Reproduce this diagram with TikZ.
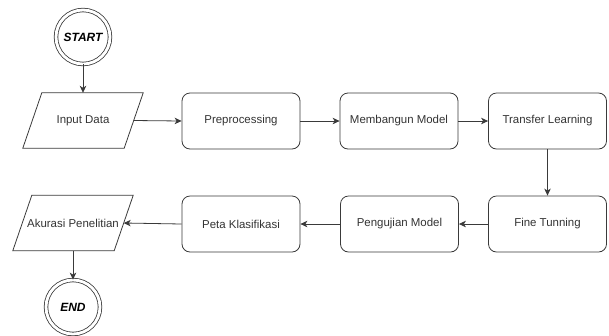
\documentclass[tikz,border=0pt]{standalone}
\usepackage{fontspec}
\setmainfont{Liberation Sans}
\usetikzlibrary{arrows.meta}
\definecolor{lc}{HTML}{3A3A3A}
\definecolor{tc}{HTML}{333333}
\tikzset{
  proc/.style={draw=lc, line width=0.8bp, rounded corners=8bp, minimum width=118bp, minimum height=56bp, inner sep=0pt, text=tc, font=\fontsize{11.5}{13}\selectfont},
  io/.style={minimum width=101bp, minimum height=55bp, inner sep=0pt, text=tc, font=\fontsize{11.5}{13}\selectfont},
  term/.style={circle, draw=lc, line width=0.8bp, double, double distance=2.8bp, minimum size=54bp, inner sep=0pt, text=black, font=\fontsize{12}{14}\selectfont\bfseries\itshape},
  conn/.style={draw=lc, line width=0.8bp, -{Stealth[length=7bp,width=6.5bp,inset=2bp]}},
  ioline/.style={draw=lc, line width=0.8bp, line join=miter}
}
\begin{document}
\begin{tikzpicture}[x=1bp,y=-1bp]
\useasboundingbox (0,0) rectangle (609,335);
\node[term] (start) at (83,37) {START};
\node[io] (in) at (83,120.5) {Input Data};
\draw[ioline] ([xshift=9.5bp]in.north west) -- ([xshift=9.5bp]in.north east) -- ([xshift=-9.5bp]in.south east) -- ([xshift=-9.5bp]in.south west) -- cycle;
\node[proc] (pre) at (241,121) {Preprocessing};
\node[proc] (mb) at (399,121) {Membangun Model};
\node[proc] (tl) at (547.5,121) {Transfer Learning};
\node[proc] (ft) at (547.5,224) {Fine Tunning};
\node[proc] (pm) at (399.5,224) {Pengujian Model};
\node[proc] (pk) at (241,224) {Peta Klasifikasi};
\node[io] (ak) at (73,223) {Akurasi Penelitian};
\draw[ioline] ([xshift=9.5bp]ak.north west) -- ([xshift=9.5bp]ak.north east) -- ([xshift=-9.5bp]ak.south east) -- ([xshift=-9.5bp]ak.south west) -- cycle;
\node[term] (end) at (73,307) {END};
\draw[conn] (start) -- (in.north);
\draw[conn] (in.east) -- (pre.west);
\draw[conn] (pre) -- (mb);
\draw[conn] (mb) -- (tl);
\draw[conn] (tl) -- (ft);
\draw[conn] (ft) -- (pm);
\draw[conn] (pm) -- (pk);
\draw[conn] (pk.west) -- (ak.east);
\draw[conn] (ak.south) -- (end);
\end{tikzpicture}
\end{document}
